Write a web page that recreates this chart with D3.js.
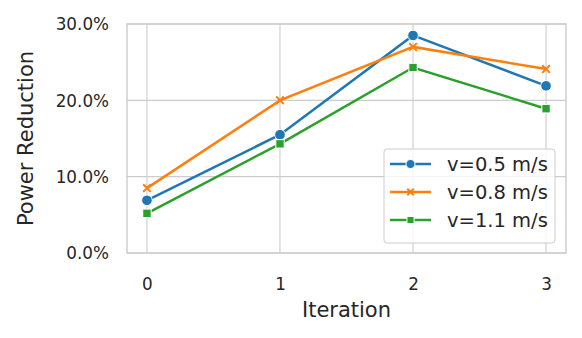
<!DOCTYPE html>
<meta charset="utf-8" />
<style>
  body { margin: 0; background: #fff; }
  svg text { font-family: "DejaVu Sans", sans-serif; fill: #262626; }
  .grid line { stroke: #cccccc; stroke-width: 1.1; }
</style>
<svg width="582" height="338"></svg>
<script src="https://d3js.org/d3.v7.min.js"></script>
<script>
  // values
  var iterations = [0, 1, 2, 3];
  var yTicks = [0, 0.1, 0.2, 0.3];
  var seriesNames = ["v=0.5 m/s", "v=0.8 m/s", "v=1.1 m/s"];
  var v05 = [0.069, 0.155, 0.285, 0.219];
  var v08 = [0.085, 0.200, 0.270, 0.241];
  var v11 = [0.052, 0.143, 0.243, 0.189];
  var colors = ["#1f77b4", "#ff7f0e", "#2ca02c"];
  var markers = ["circle", "x", "square"];

  var svg = d3.select("svg");
  var pl = 127, pr = 566, pt = 24, pb = 253;

  var x = d3.scaleLinear().domain([-0.15, 3.15]).range([pl, pr]);
  var y = d3.scaleLinear().domain([0, 0.3]).range([pb, pt]);

  // grid
  var grid = svg.append("g").attr("class", "grid");
  grid.selectAll(".gx").data(iterations).enter().append("line")
    .attr("x1", function (d) { return x(d); }).attr("x2", function (d) { return x(d); })
    .attr("y1", pt).attr("y2", pb);
  grid.selectAll(".gy").data(yTicks).enter().append("line")
    .attr("x1", pl).attr("x2", pr)
    .attr("y1", function (d) { return y(d); }).attr("y2", function (d) { return y(d); });

  // frame
  svg.append("rect")
    .attr("x", pl).attr("y", pt)
    .attr("width", pr - pl).attr("height", pb - pt)
    .attr("fill", "none").attr("stroke", "#cccccc").attr("stroke-width", 1.4);

  // axes
  var xAxis = svg.append("g").attr("transform", "translate(0," + pb + ")")
    .call(d3.axisBottom(x).tickValues(iterations).tickFormat(d3.format("d")).tickSize(0));
  var yAxis = svg.append("g").attr("transform", "translate(" + pl + ",0)")
    .call(d3.axisLeft(y).tickValues(yTicks).tickFormat(d3.format(".1%")).tickSize(0).tickPadding(18));
  [xAxis, yAxis].forEach(function (a) {
    a.select(".domain").remove();
    a.selectAll("text").style("font-size", "16.8px").attr("fill", "#262626");
  });
  yAxis.selectAll("text").attr("dy", "0.35em");
  xAxis.selectAll("text").attr("dy", "0.35em").attr("y", 284 - pb);

  svg.append("text").attr("x", (pl + pr) / 2).attr("y", 317)
    .attr("text-anchor", "middle").style("font-size", "21px").text("Iteration");
  svg.append("text").attr("transform", "translate(33," + (pt + pb) / 2 + ") rotate(-90)")
    .attr("text-anchor", "middle").style("font-size", "21px").text("Power Reduction");

  function drawMarker(g, type, color, cx, cy, s) {
    if (type === "circle") {
      g.append("circle").attr("cx", cx).attr("cy", cy).attr("r", 5.3 * s)
        .attr("fill", color).attr("stroke", "#fff").attr("stroke-width", 1);
    } else if (type === "square") {
      var h = 4.2 * s;
      g.append("rect").attr("x", cx - h).attr("y", cy - h).attr("width", 2 * h).attr("height", 2 * h)
        .attr("fill", color).attr("stroke", "#fff").attr("stroke-width", 1);
    } else {
      var k = 3.8 * s;
      g.append("path")
        .attr("d", "M" + (cx - k) + "," + (cy - k) + "L" + (cx + k) + "," + (cy + k) +
          "M" + (cx - k) + "," + (cy + k) + "L" + (cx + k) + "," + (cy - k))
        .attr("stroke", color).attr("stroke-width", 2).attr("fill", "none");
    }
  }

  var allSeries = [v05, v08, v11];
  var line = d3.line()
    .x(function (d, i) { return x(iterations[i]); })
    .y(function (d) { return y(d); });

  allSeries.forEach(function (vals, si) {
    var g = svg.append("g");
    g.append("path").datum(vals).attr("d", line)
      .attr("fill", "none").attr("stroke", colors[si]).attr("stroke-width", 2.5);
    vals.forEach(function (v, i) {
      drawMarker(g, markers[si], colors[si], x(iterations[i]), y(v), 1);
    });
  });

  // legend
  var lg = svg.append("g");
  lg.append("rect").attr("x", 384).attr("y", 149).attr("width", 171).attr("height", 94)
    .attr("rx", 3).attr("fill", "#fff").attr("fill-opacity", 0.8)
    .attr("stroke", "#cccccc").attr("stroke-width", 1);
  seriesNames.forEach(function (name, i) {
    var ly = 164 + i * 28;
    lg.append("line").attr("x1", 390).attr("x2", 431).attr("y1", ly).attr("y2", ly)
      .attr("stroke", colors[i]).attr("stroke-width", 2.5);
    drawMarker(lg, markers[i], colors[i], 410.5, ly, 0.85);
    lg.append("text").attr("x", 447).attr("y", ly).attr("dy", "0.35em")
      .style("font-size", "19.5px").text(name);
  });
</script>
